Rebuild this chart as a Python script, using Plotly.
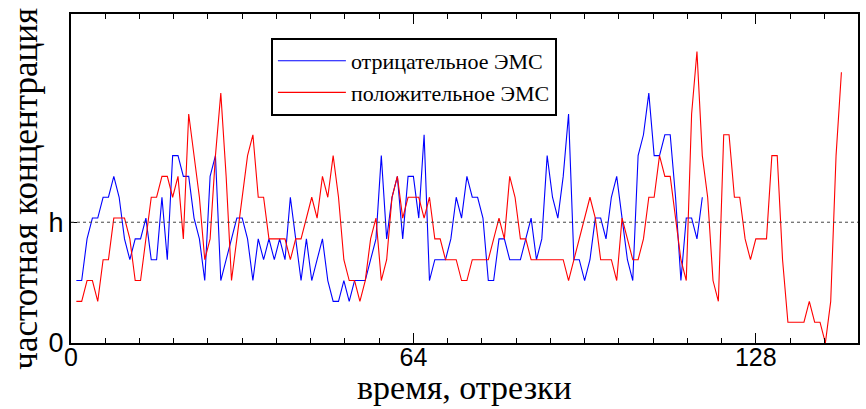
import plotly.graph_objects as go

# ---- data ----
blue_x = list(range(1, 119))
blue_y = [3, 3, 5, 6, 6, 7, 7, 8, 7, 5, 4, 5, 5, 6, 4, 4, 7, 4, 9, 9,
          8, 8, 6, 5, 3, 8, 9, 3, 4, 5, 6, 6, 5, 3, 5, 4, 5, 4, 5, 4,
          7, 5, 3, 5, 3, 4, 5, 3, 2, 2, 3, 2, 3, 3, 3, 4, 5, 9, 5, 7,
          8, 5, 8, 8, 6, 10, 3, 4, 4, 4, 5, 7, 6, 8, 7, 7, 6, 3, 3, 5,
          5, 4, 4, 4, 5, 6, 4, 5, 9, 7, 6, 8, 11, 4, 4, 3, 4, 6, 6, 5,
          7, 8, 6, 4, 3, 9, 10, 12, 9, 9, 10, 10, 7, 3, 6, 6, 5, 7]
red_x = list(range(1, 145))
red_y = [2, 2, 3, 3, 2, 4, 4, 6, 6, 6, 5, 3, 3, 5, 7, 7, 8, 8, 7, 8,
         5, 11, 9, 7, 4, 5, 9, 12, 8, 3, 5, 7, 9, 10, 7, 7, 5, 5, 5, 5,
         4, 5, 5, 6, 7, 6, 8, 7, 9, 7, 4, 3, 3, 2, 3, 5, 6, 3, 4, 7,
         8, 6, 7, 7, 7, 6, 7, 5, 5, 4, 4, 4, 3, 3, 4, 4, 4, 4, 5, 6,
         5, 8, 7, 5, 5, 4, 4, 4, 4, 4, 4, 4, 3, 4, 5, 6, 7, 6, 4, 4,
         4, 3, 6, 5, 4, 4, 5, 7, 7, 9, 8, 8, 6, 4, 3, 11, 14, 9, 7, 3,
         2, 10, 10, 7, 7, 5, 4, 5, 5, 5, 9, 9, 4, 1, 1, 1, 1, 2, 1, 1,
         0, 2, 9, 13]
H_LEVEL = 5.8
x_tickvals = [0, 64, 128]
x_ticktext = ["0", "64", "128"]
y_tickvals = [0, H_LEVEL]
y_ticktext = ["0", "h"]
names = ["отрицательное ЭМС", "положительное ЭМС"]
x_title = "время, отрезки"
y_title = "частотная концентрация"

SERIF = "Liberation Serif, Times New Roman, serif"
SANS = "Liberation Sans, Arial, sans-serif"

fig = go.Figure()
fig.add_trace(go.Scatter(x=blue_x, y=blue_y, mode="lines", name=names[0],
                         legendgroup="a",
                         line=dict(color="#0000ff", width=1.1)))
fig.add_trace(go.Scatter(x=red_x, y=red_y, mode="lines", name=names[1],
                         legendgroup="b",
                         line=dict(color="#ff0000", width=1.1)))
fig.add_hline(y=H_LEVEL, line=dict(color="#444444", width=1, dash="dot"))

fig.update_layout(
    width=866, height=409,
    margin=dict(l=71, r=8, t=14, b=66, autoexpand=False),
    plot_bgcolor="white", paper_bgcolor="white",
    showlegend=True,
    legend=dict(x=0.254, y=0.927, xanchor="left", yanchor="top",
                bordercolor="black", borderwidth=2, bgcolor="white",
                font=dict(family=SERIF, size=22, color="black"),
                tracegroupgap=0, traceorder="grouped",
                itemwidth=68),
    annotations=[
        dict(text=x_title, xref="paper", yref="paper", x=0.5, y=-0.198,
             xanchor="center", yanchor="bottom", showarrow=False,
             font=dict(family=SERIF, size=34, color="black")),
        dict(text=y_title, xref="paper", yref="paper", x=-0.058, y=0.47,
             xanchor="center", yanchor="middle", showarrow=False, textangle=-90,
             font=dict(family=SERIF, size=35, color="black")),
    ],
)
fig.update_xaxes(
    range=[0, 147.1], tickvals=x_tickvals, ticktext=x_ticktext,
    ticks="inside", ticklen=10, tickwidth=1, tickcolor="black",
    minor=dict(dtick=6.4, tick0=0, ticks="inside", ticklen=5, tickcolor="black"),
    showline=True, linecolor="black", linewidth=2, mirror="ticks",
    showgrid=False, zeroline=False, automargin=False,
    ticklabelstandoff=-9,
    tickfont=dict(family=SANS, size=25, color="black"),
)
fig.update_yaxes(
    range=[0, 15.8], tickvals=y_tickvals, ticktext=y_ticktext,
    ticks="inside", ticklen=6, tickcolor="black",
    showline=True, linecolor="black", linewidth=2, mirror=True,
    showgrid=False, zeroline=False, automargin=False,
    ticklabelstandoff=0,
    tickfont=dict(family=SANS, size=27, color="black"),
)
fig.write_html("out.html", config={"displayModeBar": False},
               post_script="document.body.style.margin='0';")
